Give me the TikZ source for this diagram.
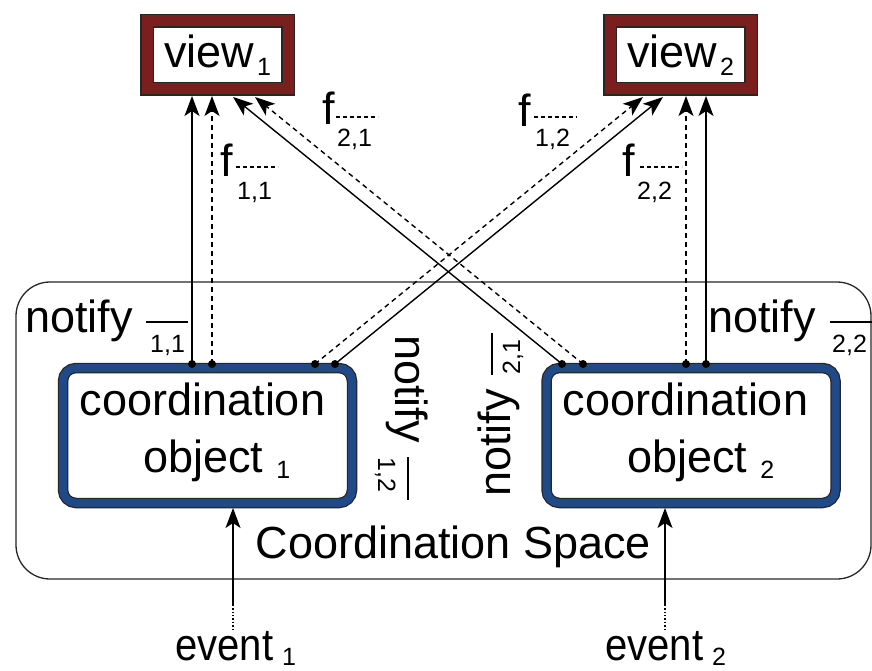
\documentclass[tikz,border=0pt]{standalone}
\usepackage{fontspec}
\setmainfont{Liberation Sans}
\usetikzlibrary{arrows.meta}
\definecolor{viewred}{HTML}{7B1E1E}
\definecolor{objblue}{HTML}{1F4A87}
\newcommand{\lowsub}[2]{\raisebox{-#1}{\fontsize{25}{25}\selectfont #2}}
\begin{document}
\begin{tikzpicture}[x=1pt,y=-1pt,
  lbl/.style={inner sep=0pt, font=\fontsize{45}{54}\selectfont},
  sublbl/.style={inner sep=0pt, font=\fontsize{25}{25}\selectfont},
  viewbox/.style={draw=viewred, line width=11pt, preaction={draw=black!85, line width=14pt},
    minimum width=141pt, minimum height=68pt, inner sep=0pt, outer sep=7pt,
    font=\fontsize{45}{54}\selectfont},
  objbox/.style={draw=objblue, line width=8pt, preaction={draw=black!85, line width=10.5pt},
    rounded corners=13pt, minimum width=289pt, minimum height=135pt, inner sep=0pt, outer sep=5pt},
  spacebox/.style={draw=black!85, line width=1.3pt, rounded corners=34pt},
  solidarr/.style={line width=1.4pt, -{Stealth[length=20pt,width=15pt,inset=5pt]}},
  dasharr/.style={solidarr, dash pattern=on 5pt off 4pt},
  legsolid/.style={line width=1.3pt},
  legdash/.style={line width=1.3pt, dash pattern=on 4pt off 3pt},
  dotmark/.style={circle, fill=black, inner sep=0pt, minimum size=8pt},
]
\useasboundingbox (0,0) rectangle (872,671);

% coordination space
\node[spacebox, minimum width=855pt, minimum height=297pt, inner sep=0pt] (space) at (443.5,430.5) {};
\node[lbl, anchor=base] (spacelbl) at (453.5,558) {Coordination Space};

% views
\node[viewbox] (view1) at (217.5,55) {view\hspace{3pt}\lowsub{8pt}{1}};
\node[viewbox] (view2) at (680.5,55) {view\hspace{3pt}\lowsub{8pt}{2}};

% coordination objects
\node[objbox] (obj1) at (207.5,435.5) {};
\node[objbox] (obj2) at (691,435.5) {};
\node[lbl, anchor=base] (obj1a) at (202.5,415) {coordination};
\node[lbl, anchor=base west] (obj1b) at (143,472) {object\hspace{13pt}\lowsub{6pt}{1}};
\node[lbl, anchor=base] (obj2a) at (685.5,415) {coordination};
\node[lbl, anchor=base west] (obj2b) at (627,472) {object\hspace{13pt}\lowsub{6pt}{2}};

% start points on coordination objects
\coordinate (d11s) at (192,364);
\coordinate (d11d) at (212,364);
\coordinate (d12d) at (315,364);
\coordinate (d12s) at (335,364);
\coordinate (d21s) at (562,364);
\coordinate (d21d) at (583,364);
\coordinate (d22d) at (686,364);
\coordinate (d22s) at (706,364);
% arrow ends on views
\coordinate (t21s) at (233,97);
\coordinate (t21d) at (255,97);
\coordinate (t12d) at (643,97);
\coordinate (t12s) at (663,97);

\draw[solidarr] (d11s) -- (d11s |- view1.south);
\draw[dasharr] (d11d) -- (d11d |- view1.south);
\draw[dasharr] (d12d) -- (t12d);
\draw[solidarr] (d12s) -- (t12s);
\draw[solidarr] (d21s) -- (t21s);
\draw[dasharr] (d21d) -- (t21d);
\draw[dasharr] (d22d) -- (d22d |- view2.south);
\draw[solidarr] (d22s) -- (d22s |- view2.south);

\foreach \p in {d11s,d11d,d12d,d12s,d21s,d21d,d22d,d22s}
  \node[dotmark] at (\p) {};

% f labels
\node[lbl, anchor=base west] (f11) at (220,177) {f};
\node[sublbl, anchor=base west] (f11s) at (237,200) {1,1};
\draw[legdash] (236,167) -- (278,167);
\node[lbl, anchor=base west] (f21) at (322,125) {f};
\node[sublbl, anchor=base west] (f21s) at (337,147) {2,1};
\draw[legdash] (336,117) -- (378,117);
\node[lbl, anchor=base west] (f12) at (518,127) {f};
\node[sublbl, anchor=base west] (f12s) at (535,147) {1,2};
\draw[legdash] (534,117) -- (577,117);
\node[lbl, anchor=base west] (f22) at (622,177) {f};
\node[sublbl, anchor=base west] (f22s) at (637,200) {2,2};
\draw[legdash] (640,167) -- (682,167);

% notify labels
\node[lbl, anchor=base west] (n11) at (25,332) {notify};
\node[sublbl, anchor=base west] (n11s) at (150,352) {1,1};
\draw[legsolid] (146,322) -- (188,322);
\node[lbl, anchor=base west] (n22) at (708,332) {notify};
\node[sublbl, anchor=base west] (n22s) at (832,352) {2,2};
\draw[legsolid] (830,322) -- (872,322);
\node[lbl, anchor=base west, rotate=-90] (n12) at (395,335) {notify};
\node[sublbl, anchor=base west, rotate=-90] (n12s) at (378,457) {1,2};
\draw[legsolid] (408,457) -- (408,500);
\node[lbl, anchor=base west, rotate=90] (n21) at (510,497) {notify};
\node[sublbl, anchor=base west, rotate=90] (n21s) at (520,375) {2,1};
\draw[legsolid] (492,333) -- (492,375);

% events
\node[lbl, anchor=base west] (ev1) at (175,660) {\scalebox{0.89}[1]{event}\hspace{9pt}\lowsub{5pt}{1}};
\node[lbl, anchor=base west] (ev2) at (605,660) {\scalebox{0.89}[1]{event}\hspace{9pt}\lowsub{5pt}{2}};
\coordinate (e1a) at (233,630);
\coordinate (e1b) at (233,605);
\coordinate (e2a) at (665,630);
\coordinate (e2b) at (665,605);
\draw[line width=1.4pt, dotted] (e1a) -- (e1b);
\draw[solidarr] (e1b) -- (e1b |- obj1.south);
\draw[line width=1.4pt, dotted] (e2a) -- (e2b);
\draw[solidarr] (e2b) -- (e2b |- obj2.south);
\end{tikzpicture}
\end{document}
